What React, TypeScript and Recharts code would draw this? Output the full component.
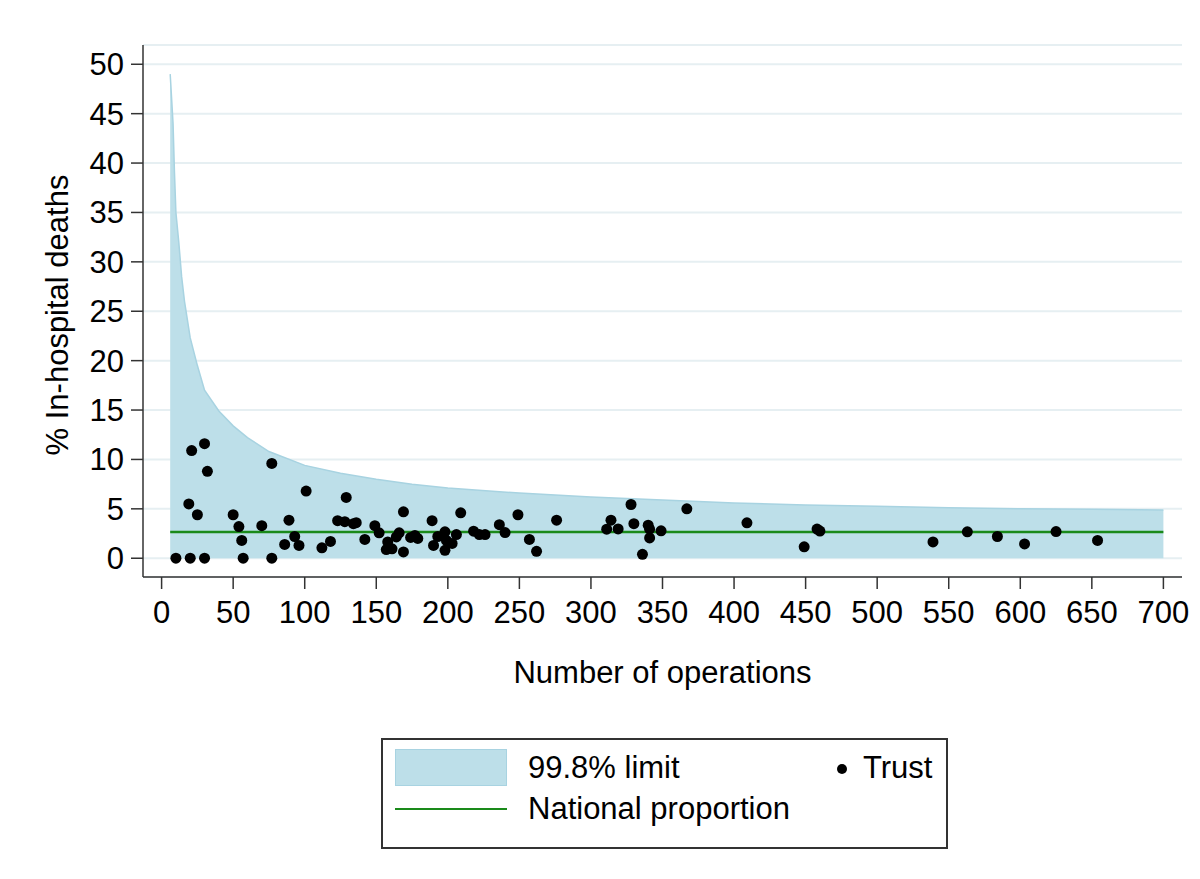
import React from 'react';
import {
  ComposedChart,
  Area,
  Line,
  Scatter,
  XAxis,
  YAxis,
  CartesianGrid,
  Label
} from 'recharts';

// 99.8% upper control limit (lower limit sits at 0 throughout)
const bandN = [6, 8, 9, 10, 12, 14, 16, 20, 25, 30, 40, 50, 60, 75, 100, 125, 150, 175, 200, 250, 300, 350, 400, 450, 500, 550, 600, 650, 700];
const bandUpper = [49, 44, 39, 35, 32, 28.5, 26, 22.3, 19.5, 17, 14.9, 13.4, 12.2, 10.8, 9.4, 8.6, 8.0, 7.5, 7.1, 6.6, 6.2, 5.9, 5.6, 5.4, 5.25, 5.1, 5.0, 4.95, 4.87];

// trusts: number of operations and % in-hospital deaths
const trustN = [10, 20, 30, 21, 30, 32, 19, 25, 50, 54, 56, 57, 70, 77, 77, 89, 86, 93, 96, 101, 112, 118, 123, 128, 129, 134, 136, 142, 149, 152, 158, 157, 161, 164, 166, 169, 169, 174, 177, 179, 189, 190, 193, 198, 199, 198, 203, 206, 209, 218, 222, 226, 236, 240, 249, 257, 262, 276, 311, 314, 319, 328, 330, 340, 341, 341, 336, 349, 367, 409, 449, 458, 460, 539, 563, 584, 603, 625, 654];
const trustPct = [0, 0, 0, 10.9, 11.6, 8.8, 5.5, 4.4, 4.4, 3.2, 1.8, 0, 3.3, 9.6, 0, 3.85, 1.4, 2.2, 1.3, 6.8, 1.05, 1.7, 3.8, 3.7, 6.15, 3.5, 3.6, 1.9, 3.3, 2.57, 1.65, 0.88, 0.95, 2.16, 2.57, 0.64, 4.7, 2.1, 2.3, 2.0, 3.8, 1.3, 2.2, 2.67, 1.8, 0.8, 1.5, 2.4, 4.6, 2.74, 2.4, 2.4, 3.4, 2.6, 4.4, 1.9, 0.7, 3.85, 2.94, 3.85, 2.97, 5.44, 3.5, 3.35, 2.94, 2.06, 0.4, 2.77, 5.0, 3.58, 1.15, 2.95, 2.75, 1.65, 2.67, 2.2, 1.45, 2.7, 1.8];

const nationalProportion = 2.65;

const xTicks = [0, 50, 100, 150, 200, 250, 300, 350, 400, 450, 500, 550, 600, 650, 700];
const yTicks = [0, 5, 10, 15, 20, 25, 30, 35, 40, 45, 50];

const bandData = bandN.map((n, i) => ({ n, upper: bandUpper[i] }));
const trustData = trustN.map((n, i) => ({ n, pct: trustPct[i] }));
const nationalData = [
  { n: bandN[0], pct: nationalProportion },
  { n: bandN[bandN.length - 1], pct: nationalProportion },
];

const FONT = '"Liberation Sans", Arial, sans-serif';
const FS = 31;
const BAND_FILL = '#bddfe9';
const BAND_STROKE = '#a8d3e1';
const GREEN = '#1a8a1a';
const AXIS = '#333';

const Dot = (props: any) => <circle cx={props.cx} cy={props.cy} r={5.5} fill="#000" />;

const FunnelPlot: React.FC = () => {
  return (
    <div style={{ position: 'absolute', left: 0, top: 0, width: 1200, height: 879, background: '#fff', fontFamily: FONT }}>
      <ComposedChart width={1200} height={879} margin={{ top: 45, right: 18, bottom: 192, left: 0 }}>
        <CartesianGrid vertical={false} stroke="#e6eff2" strokeWidth={2} />
        <XAxis
          type="number"
          dataKey="n"
          domain={[-13, 713]}
          ticks={xTicks}
          interval={0}
          allowDataOverflow
          height={110}
          tickSize={12}
          tickMargin={12}
          tick={{ fill: '#000', fontSize: FS, fontFamily: FONT }}
          tickLine={{ stroke: AXIS, strokeWidth: 1.5 }}
          axisLine={{ stroke: AXIS, strokeWidth: 1.5 }}
        >
          <Label
            content={({ viewBox }: any) => (
              <text
                x={viewBox.x + viewBox.width / 2}
                y={viewBox.y + 106}
                textAnchor="middle"
                fontSize={FS}
                fontFamily={FONT}
                fill="#000"
              >
                Number of operations
              </text>
            )}
          />
        </XAxis>
        <YAxis
          type="number"
          dataKey="pct"
          domain={[-1.9, 51.95]}
          ticks={yTicks}
          interval={0}
          allowDataOverflow
          width={143}
          tickSize={12}
          tickMargin={7}
          tick={{ fill: '#000', fontSize: FS, fontFamily: FONT }}
          tickLine={{ stroke: AXIS, strokeWidth: 1.5 }}
          axisLine={{ stroke: AXIS, strokeWidth: 1.5 }}
        >
          <Label
            content={({ viewBox }: any) => {
              const cx = viewBox.x + 68;
              const cy = viewBox.y + viewBox.height / 2 + 4;
              return (
                <text
                  x={cx}
                  y={cy}
                  transform={`rotate(-90 ${cx} ${cy})`}
                  textAnchor="middle"
                  fontSize={FS}
                  fontFamily={FONT}
                  fill="#000"
                >
                  % In-hospital deaths
                </text>
              );
            }}
          />
        </YAxis>
        <Area
          data={bandData}
          dataKey="upper"
          type="linear"
          baseValue={0}
          fill={BAND_FILL}
          fillOpacity={1}
          stroke={BAND_STROKE}
          strokeWidth={1.5}
          isAnimationActive={false}
        />
        <Line
          data={nationalData}
          dataKey="pct"
          type="linear"
          stroke={GREEN}
          strokeWidth={2.5}
          dot={false}
          activeDot={false}
          isAnimationActive={false}
        />
        <Scatter data={trustData} dataKey="pct" shape={Dot} isAnimationActive={false} />
      </ComposedChart>

      {/* legend box */}
      <div
        style={{
          position: 'absolute',
          left: 381,
          top: 738,
          width: 563,
          height: 107,
          border: `2px solid ${AXIS}`,
          background: '#fff',
          fontSize: FS,
          color: '#000',
        }}
      >
        <div style={{ position: 'absolute', left: 12, top: 9, width: 112, height: 37, background: BAND_FILL, border: `1px solid ${BAND_STROKE}`, boxSizing: 'border-box' }} />
        <div style={{ position: 'absolute', left: 145, top: 10, lineHeight: '36px' }}>99.8% limit</div>
        <div style={{ position: 'absolute', left: 454, top: 24, width: 10, height: 10, borderRadius: 5, background: '#000' }} />
        <div style={{ position: 'absolute', left: 480, top: 10, lineHeight: '36px' }}>Trust</div>
        <div style={{ position: 'absolute', left: 12, top: 68, width: 112, height: 2, background: GREEN }} />
        <div style={{ position: 'absolute', left: 145, top: 51, lineHeight: '36px' }}>National proportion</div>
      </div>
    </div>
  );
};

export default FunnelPlot;
